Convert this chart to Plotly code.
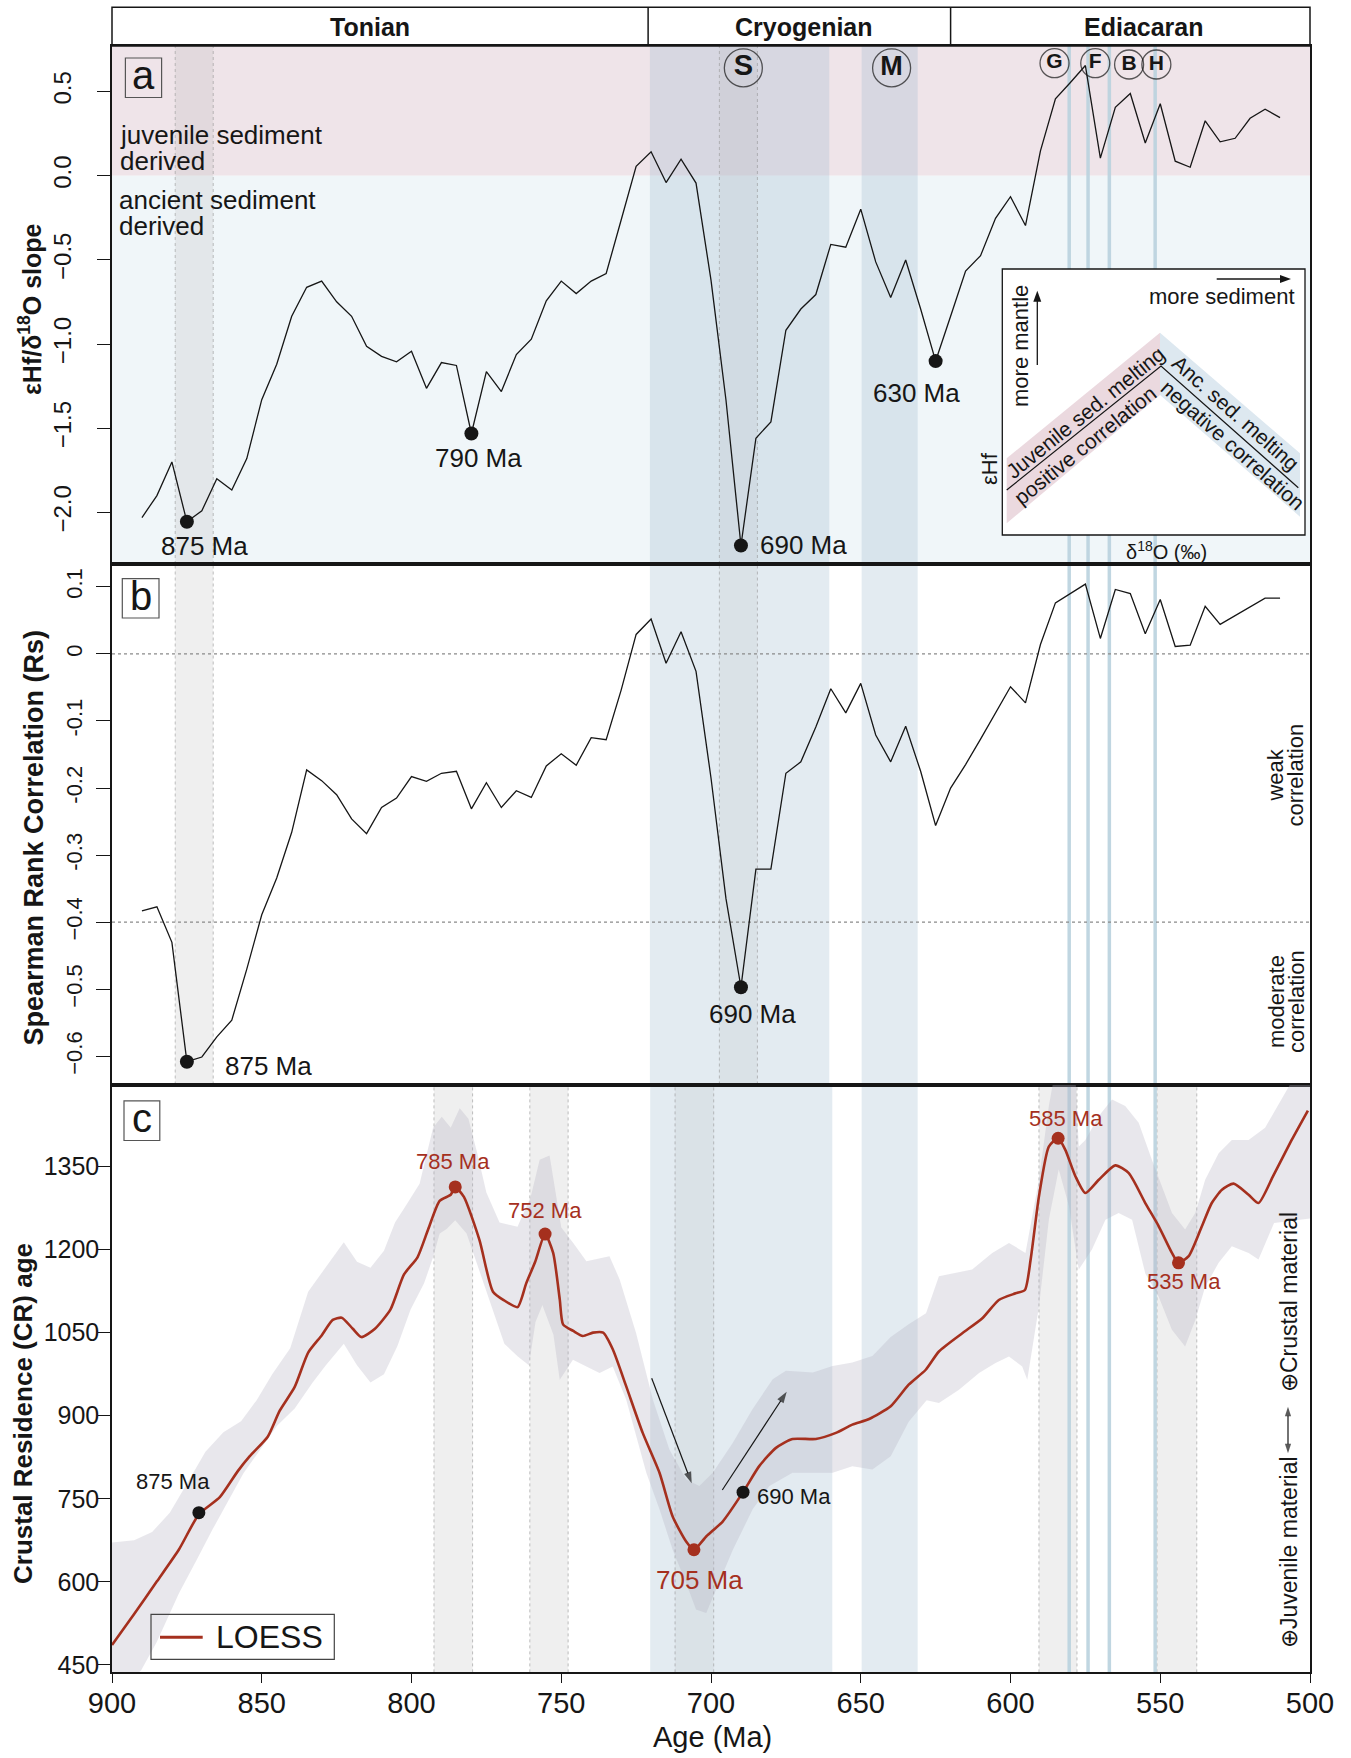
import plotly.graph_objects as go

W, H = 1351, 1758
def fx(p):
    return p / W
def fy(p):
    return 1 - p / H

# ---------------------------------------------------------------- data
ages_ab = [890, 885, 880, 875, 870, 865, 860, 855, 850, 845, 840, 835, 830, 825, 820,
           815, 810, 805, 800, 795, 790, 785, 780, 775, 770, 765, 760, 755, 750, 745,
           740, 735, 730, 725, 720, 715, 710, 705, 700, 695, 690, 685, 680, 675, 670,
           665, 660, 655, 650, 645, 640, 635, 630, 625, 620, 615, 610, 605, 600, 595,
           590, 585, 580, 575, 570, 565, 560, 555, 550, 545, 540, 535, 530, 525, 520,
           515, 510]

slope = [-2.03, -1.90, -1.70, -2.055, -1.99, -1.80, -1.867, -1.68, -1.33, -1.12, -0.835,
         -0.663, -0.626, -0.749, -0.835, -1.013, -1.073, -1.105, -1.043, -1.263, -1.11,
         -1.127, -1.531, -1.164, -1.282, -1.062, -0.971, -0.743, -0.626, -0.70, -0.626,
         -0.581, -0.263, 0.056, 0.142, -0.041, 0.098, -0.044, -0.62, -1.332, -2.196,
         -1.559, -1.462, -0.918, -0.792, -0.706, -0.408, -0.425, -0.199, -0.512, -0.723,
         -0.501, -0.792, -1.101, -0.835, -0.566, -0.475, -0.253, -0.125, -0.296, 0.147,
         0.456, 0.553, 0.654, 0.104, 0.406, 0.488, 0.194, 0.427, 0.086, 0.050, 0.326,
         0.201, 0.222, 0.341, 0.395, 0.345]

spearman = [-0.383, -0.377, -0.430, -0.608, -0.601, -0.571, -0.546, -0.470, -0.389, -0.334,
            -0.266, -0.173, -0.189, -0.210, -0.246, -0.268, -0.229, -0.215, -0.183, -0.190,
            -0.178, -0.175, -0.231, -0.192, -0.229, -0.204, -0.214, -0.167, -0.149, -0.166,
            -0.125, -0.128, -0.054, 0.029, 0.052, -0.014, 0.033, -0.026, -0.185, -0.365,
            -0.497, -0.321, -0.321, -0.178, -0.161, -0.109, -0.052, -0.088, -0.044, -0.121,
            -0.161, -0.108, -0.175, -0.256, -0.200, -0.165, -0.127, -0.089, -0.049, -0.073,
            0.014, 0.076, 0.090, 0.104, 0.023, 0.096, 0.090, 0.030, 0.081, 0.011, 0.013,
            0.071, 0.044, 0.057, 0.071, 0.083, 0.083]

a_dot_age = [875, 780, 690, 625]
a_dot_val = [-2.055, -1.531, -2.196, -1.101]
a_dot_label = ["875 Ma", "790 Ma", "690 Ma", "630 Ma"]

b_dot_age = [875, 690]
b_dot_val = [-0.608, -0.497]
b_dot_label = ["875 Ma", "690 Ma"]

event_age = [689.2, 639.7, 585.3, 571.7, 560.4, 551.3]
event_label = ["S", "M", "G", "F", "B", "H"]
event_line_age = [580.4, 574.1, 567.0, 551.7]

loess_age = [900, 892.6, 885, 877.6, 871, 864, 858, 854, 848, 844, 839, 834.5, 830, 826.3,
             823.3, 819.6, 816.7, 812.2, 807, 802.5, 798, 794.4, 790.6, 786.9, 785.4, 782.5,
             777.3, 772.8, 769, 764.6, 761.7, 758.7, 755.4, 752.7, 750.5, 749.4, 746, 742.8,
             739.4, 736, 732.8, 728.3, 722.8, 717.2, 712.8, 708.3, 705.7, 701.6, 696.1, 689.3,
             683.9, 678.3, 672.8, 665, 658.3, 652.8, 647.2, 640, 634, 628.3, 623.9, 616.1,
             609.4, 603.9, 598.3, 595.2, 593.3, 590.5, 587.2, 584.1, 581.7, 578.3, 575, 570.5,
             565, 560.5, 555, 550.5, 546.1, 543.9, 540.5, 536.1, 532.8, 529.4, 525.5, 520.5,
             517.2, 512.2, 506.2, 500.7]
loess_val = [486, 542, 601, 659, 722, 753, 800, 827, 862, 909, 952, 1014, 1045, 1073,
             1077, 1057, 1042, 1057, 1092, 1155, 1186, 1237, 1288, 1299, 1313, 1295,
             1217, 1124, 1108, 1096, 1139, 1178, 1228, 1194, 1110, 1065, 1053, 1044,
             1050, 1050, 1020, 953, 869, 797, 718, 673, 658, 682, 709, 762,
             809, 842, 858, 858, 869, 884, 894, 917, 956, 983, 1016, 1049,
             1076, 1109, 1121, 1127, 1181, 1296, 1386, 1401, 1380, 1332, 1302, 1326,
             1352, 1338, 1284, 1242, 1194, 1176, 1188, 1242, 1284, 1308, 1319, 1299,
             1284, 1334, 1397, 1451]

upper_age = [900, 892.6, 886.6, 880.7, 874.7, 868.8, 862.8, 856.9, 851.7, 846.5, 840.5,
             834.5, 829.3, 822.6, 818.2, 813.7, 809.2, 805.5, 801.8, 797.3, 792.8, 789.9,
             786.9, 783.9, 781, 778, 775, 770.6, 764.6, 760.2, 757.2, 753.9, 751.5, 750,
             746, 741.6, 733.9, 730.5, 725, 719.4, 713.9, 708.3, 703.9, 699.4, 692.7, 686.1,
             679.4, 675, 666, 659.4, 652.8, 646.1, 640, 634, 628.2, 623.9, 612.8, 606.1,
             600.5, 595, 590.5, 587.2, 585.5, 578.3, 577.2, 575, 570.5, 566.1, 561.7, 557.2,
             552.8, 546.1, 541.7, 538.3, 535, 530.5, 526.1, 520.5, 515, 509.1, 505.4, 500]
upper_val = [671, 675, 690, 725, 780, 835, 870, 890, 928, 975, 1022,
             1124, 1163, 1213, 1178, 1167, 1198, 1249, 1280, 1319, 1420, 1440,
             1420, 1455, 1436, 1373, 1303, 1249, 1241, 1295, 1362, 1370, 1290, 1240,
             1212, 1179, 1188, 1146, 1049, 929, 839, 785, 773, 797, 851, 912,
             966, 981, 978, 990, 996, 1008, 1042, 1065, 1085, 1152, 1164, 1194,
             1212, 1194, 1326, 1459, 1510, 1510, 1386, 1398, 1441, 1471, 1459, 1429,
             1362, 1266, 1236, 1266, 1326, 1374, 1398, 1398, 1420, 1475, 1510, 1510]

lower_age = [900, 890.3, 885.1, 877.6, 871.7, 866.5, 861.3, 856.1, 850.9, 844.9, 839, 833,
             828.6, 822.6, 818.2, 813.7, 809.2, 804.7, 800.3, 795.8, 792.8, 790.6, 788.3,
             785.4, 781.6, 777.9, 773.4, 769, 764.5, 760.8, 758.6, 756.3, 752.6, 750.5,
             746.1, 741.6, 737.2, 732.8, 728.3, 721.6, 717.2, 712.8, 708.3, 705, 701.6,
             698.3, 692.7, 686.1, 680.5, 672.8, 666, 659.4, 652.8, 646.1, 640, 634, 628,
             623.9, 617.2, 610.5, 605, 600.5, 596.1, 594.4, 590.5, 587.2, 583.9, 580.5,
             577.2, 572.8, 568.3, 563.9, 559.4, 555, 550.5, 546.1, 541.7, 538.3, 535, 530.5,
             526.1, 520.5, 517.2, 512, 506, 500]
lower_val = [400, 440, 491, 580, 640, 694, 745, 796, 835, 882, 913, 960,
             991, 1030, 991, 960, 975, 1026, 1092, 1139, 1186, 1229, 1237,
             1253, 1229, 1171, 1100, 1030, 1007, 991, 1069, 1100, 1046, 965,
             1001, 989, 977, 989, 929, 797, 731, 658, 598, 550, 544,
             586, 658, 731, 773, 797, 797, 797, 809, 803, 827, 889, 928,
             923, 947, 977, 995, 1007, 989, 965, 1097, 1254, 1345, 1279,
             1164, 1200, 1254, 1266, 1254, 1157, 1115, 1055, 1025, 1073, 1133, 1176,
             1206, 1194, 1182, 1248, 1252, 1256]

c_red_age = [785.4, 755.4, 705.7, 584.1, 543.9]
c_red_val = [1313, 1228, 658, 1401, 1176]
c_red_label = ["785 Ma", "752 Ma", "705 Ma", "585 Ma", "535 Ma"]
c_black_age = [871, 689.3]
c_black_val = [725, 762]
c_black_label = ["875 Ma", "690 Ma"]

periods = ["Tonian", "Cryogenian", "Ediacaran"]
period_bounds = [900, 721, 620, 500]

xticks = [900, 850, 800, 750, 700, 650, 600, 550, 500]
a_ticks = [0.5, 0.0, -0.5, -1.0, -1.5, -2.0]
a_ticktext = ["0.5", "0.0", "\u22120.5", "\u22121.0", "\u22121.5", "\u22122.0"]
b_ticks = [0.1, 0, -0.1, -0.2, -0.3, -0.4, -0.5, -0.6]
b_ticktext = ["0.1", "0", "-0.1", "-0.2", "-0.3", "\u22120.4", "\u22120.5", "\u22120.6"]
c_ticks = [450, 600, 750, 900, 1050, 1200, 1350]

# ---------------------------------------------------------------- style
FONT = "Liberation Sans, Arial, Helvetica, sans-serif"
INK = "#161616"
RED = "#A5301E"
RA = [-2.306, 0.770]
RB = [-0.642, 0.134]
RC = [436.6, 1498]
XD = [fx(112), fx(1310)]
PX_PER_MA = (1310 - 112) / 400.0

# pixel -> data helpers (used only for decorative arrows placed in screen space)
def ma_at(px):
    return 900 - (px - 112) / PX_PER_MA
def a_at(py):
    return RA[1] - (py - 46) * (RA[1] - RA[0]) / (564 - 46)
def c_at(py):
    return RC[1] - (py - 1084.5) * (RC[1] - RC[0]) / (1672.4 - 1084.5)

fig = go.Figure()

def arrow(xa, ya, pts, width=1.2, head=11):
    xs = [ma_at(p[0]) for p in pts]
    ys = [(a_at if ya == "y" else c_at)(p[1]) for p in pts]
    fig.add_trace(go.Scatter(x=xs, y=ys, mode="lines+markers", xaxis=xa, yaxis=ya,
                             line=dict(color=INK, width=width),
                             marker=dict(symbol="arrow", size=[0] * (len(xs) - 1) + [head],
                                         angleref="previous", color=INK, line=dict(width=0)),
                             hoverinfo="skip", showlegend=False, cliponaxis=False))

# panel a
fig.add_trace(go.Scatter(x=ages_ab, y=slope, mode="lines", line=dict(color=INK, width=1.3),
                         xaxis="x", yaxis="y", hoverinfo="skip", showlegend=False))
fig.add_trace(go.Scatter(x=a_dot_age, y=a_dot_val, mode="markers", marker=dict(color=INK, size=14),
                         xaxis="x", yaxis="y", hoverinfo="skip", showlegend=False))
event_y = [0.64, 0.64, 0.668, 0.668, 0.66, 0.66]
fig.add_trace(go.Scatter(x=event_age, y=event_y, mode="markers+text",
                         text=["<b>%s</b>" % t for t in event_label], textposition="middle center",
                         textfont=dict(size=[29, 27, 21, 21, 21, 21], color=INK, family=FONT),
                         marker=dict(symbol="circle-open", size=[38, 38, 29, 29, 29, 29], color=INK,
                                     line=dict(width=1.3, color=INK)),
                         xaxis="x", yaxis="y", hoverinfo="skip", showlegend=False, cliponaxis=False))

# panel b
fig.add_trace(go.Scatter(x=ages_ab, y=spearman, mode="lines", line=dict(color=INK, width=1.3),
                         xaxis="x2", yaxis="y2", hoverinfo="skip", showlegend=False))
fig.add_trace(go.Scatter(x=b_dot_age, y=b_dot_val, mode="markers", marker=dict(color=INK, size=14),
                         xaxis="x2", yaxis="y2", hoverinfo="skip", showlegend=False))

# panel c
fig.add_trace(go.Scatter(x=upper_age + lower_age[::-1], y=upper_val + lower_val[::-1], mode="lines",
                         fill="toself", fillcolor="rgba(180,174,192,0.30)", line=dict(width=0),
                         xaxis="x3", yaxis="y3", hoverinfo="skip", showlegend=False))
fig.add_trace(go.Scatter(x=loess_age, y=loess_val, mode="lines",
                         line=dict(color=RED, width=2.6, shape="spline", smoothing=0.6),
                         xaxis="x3", yaxis="y3", hoverinfo="skip", showlegend=False))
fig.add_trace(go.Scatter(x=c_red_age, y=c_red_val, mode="markers", marker=dict(color=RED, size=13),
                         xaxis="x3", yaxis="y3", hoverinfo="skip", showlegend=False))
fig.add_trace(go.Scatter(x=c_black_age, y=c_black_val, mode="markers", marker=dict(color=INK, size=13),
                         xaxis="x3", yaxis="y3", hoverinfo="skip", showlegend=False))

# trend arrows in panel c
arrow("x3", "y3", [(651.7, 1378.3), (691.7, 1483.3)], head=12)
arrow("x3", "y3", [(722.3, 1490.0), (786.7, 1391.7)], head=12)
# double arrow (juvenile <-> crustal)
arrow("x3", "y3", [(1288, 1430), (1288, 1406.7)], head=10)
arrow("x3", "y3", [(1288, 1430), (1288, 1453.3)], head=10)

# ---------------------------------------------------------------- shapes
shapes = []
def rect(xref, yref, x0, x1, y0, y1, fill, layer="below"):
    shapes.append(dict(type="rect", xref=xref, yref=yref, x0=x0, x1=x1, y0=y0, y1=y1,
                       fillcolor=fill, layer=layer, line=dict(width=0)))

def vline(xref, yref, x, color, width, dash="solid"):
    shapes.append(dict(type="line", xref=xref, yref=yref, x0=x, x1=x, y0=0, y1=1,
                       line=dict(color=color, width=width, dash=dash), layer="below"))

BLUE_BAND = "rgba(150,180,202,0.27)"
GREY_BAND = "rgba(175,175,175,0.20)"
INNER = "rgba(150,150,150,0.10)"
EDGE = "rgba(150,150,150,0.6)"
THIN = "rgba(185,210,222,0.9)"

rect("x domain", "y", 0, 1, 0, RA[1], "#EFE4E9")
rect("x domain", "y", 0, 1, RA[0], 0, "#F0F6F9")

for xr, yr in [("x", "y domain"), ("x2", "y2 domain")]:
    rect(xr, yr, 878.9, 866.2, 0, 1, GREY_BAND)
    rect(xr, yr, 720.4, 660.5, 0, 1, BLUE_BAND)
    rect(xr, yr, 697.2, 684.5, 0, 1, INNER)
    rect(xr, yr, 649.7, 631.0, 0, 1, BLUE_BAND)
    for e in [878.9, 866.2, 697.2, 684.5]:
        vline(xr, yr, e, EDGE, 1, "dot")
    for e in event_line_age:
        vline(xr, yr, e, THIN, 3.5)

for v in [0, -0.4]:
    shapes.append(dict(type="line", xref="x2 domain", yref="y2", x0=0, x1=1, y0=v, y1=v,
                       line=dict(color="#8a8a8a", width=1.2, dash="dot"), layer="below"))

for a0, a1 in [(792.5, 779.6), (760.5, 747.7), (590.5, 577.8), (551.1, 537.8)]:
    rect("x3", "y3 domain", a0, a1, 0, 1, GREY_BAND)
rect("x3", "y3 domain", 720.3, 659.5, 0, 1, BLUE_BAND)
rect("x3", "y3 domain", 712.0, 699.1, 0, 1, INNER)
rect("x3", "y3 domain", 649.7, 631.0, 0, 1, BLUE_BAND)
for e in [792.5, 779.6, 760.5, 747.7, 590.5, 577.8, 551.1, 537.8, 712.0, 699.1]:
    vline("x3", "y3 domain", e, EDGE, 1, "dot")
for e in event_line_age:
    vline("x3", "y3 domain", e, THIN, 3.5)

# header box
shapes.append(dict(type="rect", xref="paper", yref="paper", x0=fx(112), x1=fx(1310), y0=fy(46), y1=fy(7.3),
                   line=dict(color=INK, width=1.5), fillcolor="rgba(0,0,0,0)", layer="above"))
for b in period_bounds[1:-1]:
    shapes.append(dict(type="line", xref="x", yref="paper", x0=b, x1=b, y0=fy(46), y1=fy(7.3),
                       line=dict(color=INK, width=1.5), layer="above"))

# panel letter boxes
for (x0, y0, x1, y1) in [(125.4, 58, 161.6, 97.5), (122.3, 578.6, 159, 618), (124, 1100.8, 159.8, 1140.5)]:
    shapes.append(dict(type="rect", xref="paper", yref="paper", x0=fx(x0), x1=fx(x1), y0=fy(y1), y1=fy(y0),
                       line=dict(color="#555", width=1.2), fillcolor="rgba(0,0,0,0)", layer="above"))

# inset diagram
shapes.append(dict(type="rect", xref="paper", yref="paper", x0=fx(1002.3), x1=fx(1305), y0=fy(535), y1=fy(269),
                   line=dict(color=INK, width=1.3), fillcolor="white", layer="above"))
def path(pts, close=True):
    s = "M " + " L ".join("%.5f,%.5f" % (fx(a), fy(b)) for a, b in pts)
    return s + (" Z" if close else "")
shapes.append(dict(type="path", xref="paper", yref="paper",
                   path=path([(1006.7, 458.3), (1160, 332.7), (1160, 395), (1006.7, 523.3)]),
                   fillcolor="#EBD9DF", line=dict(width=0), layer="above"))
shapes.append(dict(type="path", xref="paper", yref="paper",
                   path=path([(1160, 332.7), (1300, 453.3), (1300, 516.7), (1160, 395)]),
                   fillcolor="#DDE8F0", line=dict(width=0), layer="above"))
shapes.append(dict(type="path", xref="paper", yref="paper",
                   path=path([(1006.7, 490), (1161, 366), (1298.3, 487.7)], close=False),
                   line=dict(color=INK, width=1.2), layer="above"))
# inset arrows (line + filled head)
shapes.append(dict(type="line", xref="paper", yref="paper", x0=fx(1216.7), x1=fx(1282), y0=fy(279), y1=fy(279),
                   line=dict(color=INK, width=1.3), layer="above"))
shapes.append(dict(type="path", xref="paper", yref="paper",
                   path=path([(1291, 279), (1280, 275), (1280, 283)]), fillcolor=INK,
                   line=dict(width=0), layer="above"))
shapes.append(dict(type="line", xref="paper", yref="paper", x0=fx(1037.3), x1=fx(1037.3), y0=fy(365), y1=fy(300),
                   line=dict(color=INK, width=1.3), layer="above"))
shapes.append(dict(type="path", xref="paper", yref="paper",
                   path=path([(1037.3, 290.7), (1033.3, 301.7), (1041.3, 301.7)]), fillcolor=INK,
                   line=dict(width=0), layer="above"))

# legend
shapes.append(dict(type="rect", xref="paper", yref="paper", x0=fx(151), x1=fx(334.3), y0=fy(1659.3), y1=fy(1614.3),
                   line=dict(color="#444", width=1.2), fillcolor="rgba(0,0,0,0)", layer="above"))
shapes.append(dict(type="line", xref="paper", yref="paper", x0=fx(160), x1=fx(202.7), y0=fy(1637.3), y1=fy(1637.3),
                   line=dict(color=RED, width=3), layer="above"))

# ---------------------------------------------------------------- annotations
ann = []
def txt(x, y, s, size, color=INK, angle=0, xanchor="center", bold=False):
    if bold:
        s = "<b>%s</b>" % s
    ann.append(dict(x=fx(x), y=fy(y), xref="paper", yref="paper", text=s, showarrow=False,
                    font=dict(size=size, color=color, family=FONT), textangle=angle,
                    xanchor=xanchor, yanchor="middle"))

def dlabel(xr, yr, x, y, s, size, dx, dy, color=INK, xanchor="center"):
    ann.append(dict(x=x, y=y, xref=xr, yref=yr, text=s, showarrow=False, xshift=dx, yshift=dy,
                    font=dict(size=size, color=color, family=FONT), xanchor=xanchor, yanchor="middle"))

for name, cx in zip(periods, [370, 804, 1144]):
    txt(cx, 26.6, name, 25, bold=True)

txt(143.5, 75, "a", 40)
txt(140.7, 596, "b", 40)
txt(141.9, 1118, "c", 40)

txt(30, 309, "\u03b5Hf/\u03b4<sup>18</sup>O slope", 25, angle=-90, bold=True)
txt(33.5, 838, "Spearman Rank Correlation (Rs)", 27, angle=-90, bold=True)
txt(23, 1414, "Crustal Residence (CR) age", 26, angle=-90, bold=True)
txt(712, 1737, "Age (Ma)", 29)

txt(118, 135, "juvenile sediment", 26, xanchor="left")
txt(118, 161, "derived", 26, xanchor="left")
txt(116.5, 200, "ancient sediment", 26, xanchor="left")
txt(116.5, 226, "derived", 26, xanchor="left")

a_off = [(18, -24, "center"), (7, -25, "center"), (17, 0, "left"), (-19, -32, "center")]
for ag, v, lab, (dx, dy, xa) in zip(a_dot_age, a_dot_val, a_dot_label, a_off):
    dlabel("x", "y", ag, v, lab, 26, dx, dy, xanchor=xa)

b_off = [(36, -4, "left"), (12, -27, "center")]
for ag, v, lab, (dx, dy, xa) in zip(b_dot_age, b_dot_val, b_dot_label, b_off):
    dlabel("x2", "y2", ag, v, lab, 26, dx, dy, xanchor=xa)
txt(1276, 775.6, "weak", 22, angle=-90)
txt(1296, 775.6, "correlation", 22, angle=-90)
txt(1276, 1002, "moderate", 22, angle=-90)
txt(1296, 1002, "correlation", 22, angle=-90)

red_off = [(-2, 25, 22), (0, 24, 22), (6, -30, 26), (8, 20, 22), (5, -19, 22)]
for ag, v, lab, (dx, dy, fs) in zip(c_red_age, c_red_val, c_red_label, red_off):
    dlabel("x3", "y3", ag, v, lab, fs, dx, dy, color=RED)
blk_off = [(-26, 31, "center"), (12, -4, "left")]
for ag, v, lab, (dx, dy, xa) in zip(c_black_age, c_black_val, c_black_label, blk_off):
    dlabel("x3", "y3", ag, v, lab, 22, dx, dy, xanchor=xa)

txt(1289, 1302, "\u2295Crustal material", 23, angle=-90)
txt(1289, 1552, "\u2295Juvenile material", 23, angle=-90)

txt(214, 1637, "LOESS", 32, xanchor="left")

txt(1221.7, 297, "more sediment", 22)
txt(1020, 346, "more mantle", 22, angle=-90)
txt(990, 468, "\u03b5Hf", 22, angle=-90)
txt(1166.7, 550, "\u03b4<sup>18</sup>O (\u2030)", 20)
txt(1085, 412, "Juvenile sed. melting", 21, angle=-38.8)
txt(1085, 446, "positive correlation", 21, angle=-38.8)
txt(1235, 413, "Anc. sed. melting", 21, angle=41.5)
txt(1232, 445, "negative correlation", 21, angle=41.5)

# ---------------------------------------------------------------- axes
common = dict(showgrid=False, zeroline=False, showline=True, linecolor=INK, linewidth=1.5,
              mirror=True, automargin=False)
xcommon = dict(domain=XD, range=[900, 500], **common)

fig.update_layout(
    width=W, height=H,
    margin=dict(l=0, r=0, t=0, b=0),
    paper_bgcolor="white", plot_bgcolor="white",
    font=dict(family=FONT, color=INK),
    showlegend=False,
    xaxis=dict(anchor="y", showticklabels=False, ticks="", **xcommon),
    xaxis2=dict(anchor="y2", showticklabels=False, ticks="", **xcommon),
    xaxis3=dict(anchor="y3", tickvals=xticks, ticks="outside", ticklen=9, tickwidth=1.3, tickcolor=INK,
                tickfont=dict(size=29, color=INK), ticklabelstandoff=-5, **xcommon),
    yaxis=dict(anchor="x", domain=[fy(564), fy(46)], range=RA, tickvals=a_ticks, ticktext=a_ticktext,
               tickangle=-90, ticks="outside", ticklen=13, tickwidth=1.3, tickcolor=INK,
               tickfont=dict(size=24, color=INK), ticklabelstandoff=17, **common),
    yaxis2=dict(anchor="x2", domain=[fy(1084.5), fy(564)], range=RB, tickvals=b_ticks, ticktext=b_ticktext,
                tickangle=-90, ticks="outside", ticklen=14, tickwidth=1.3, tickcolor=INK,
                tickfont=dict(size=22, color=INK), ticklabelstandoff=5, **common),
    yaxis3=dict(anchor="x3", domain=[fy(1672.4), fy(1084.5)], range=RC, tickvals=c_ticks,
                ticks="outside", ticklen=12, tickwidth=1.3, tickcolor=INK,
                tickfont=dict(size=25, color=INK), ticklabelstandoff=-6, **common),
    shapes=shapes,
    annotations=ann,
)

fig.write_html("out.html", config={"displayModeBar": False},
               post_script="document.body.style.margin='0';document.body.style.padding='0';"
                           "document.body.style.overflow='hidden';")
